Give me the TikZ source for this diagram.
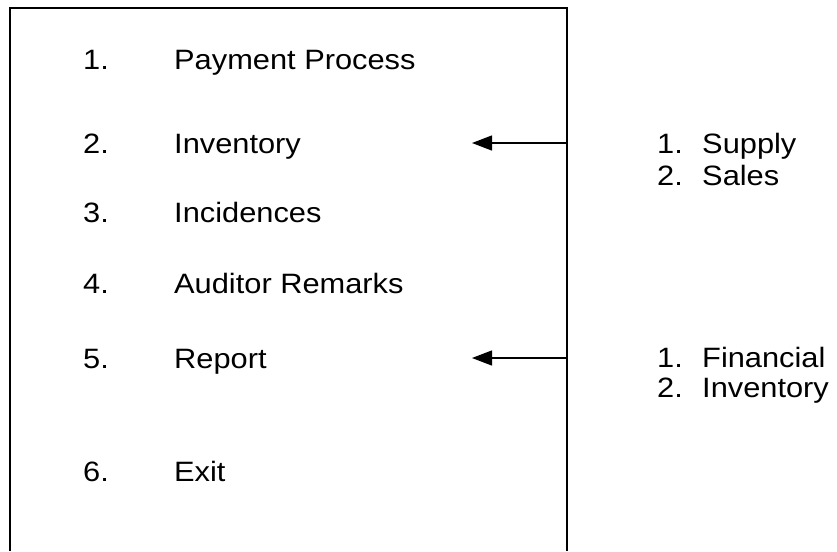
\documentclass[tikz,border=0pt]{standalone}
\usepackage{fontspec}
\usepackage{graphicx}
\setmainfont{Liberation Sans}
\usetikzlibrary{arrows.meta}
\newcommand{\wtxt}[1]{\scalebox{1.1}[1]{#1}}
\begin{document}
\begin{tikzpicture}[x=1pt,y=-1pt,
  txt/.style={anchor=base west,inner sep=0pt,font=\fontsize{28}{32}\selectfont},
  frame/.style={line width=1.3pt},
  conn/.style={line width=1.3pt,-{Triangle[length=20pt,width=15pt]}}]
\useasboundingbox (0,0) rectangle (837,551);
\draw[frame] (10,551) -- (10,8) -- (567,8) -- (567,551);
\node[txt] (n1) at (83,70) {\wtxt{1.}};
\node[txt] (t1) at (174,70) {\wtxt{Payment Process}};
\node[txt] (n2) at (83,153) {\wtxt{2.}};
\node[txt] (t2) at (174,153) {\wtxt{Inventory}};
\node[txt] (n3) at (83,222) {\wtxt{3.}};
\node[txt] (t3) at (174,222) {\wtxt{Incidences}};
\node[txt] (n4) at (83,293) {\wtxt{4.}};
\node[txt] (t4) at (174,293) {\wtxt{Auditor Remarks}};
\node[txt] (n5) at (83,368) {\wtxt{5.}};
\node[txt] (t5) at (174,368) {\wtxt{Report}};
\node[txt] (n6) at (83,481) {\wtxt{6.}};
\node[txt] (t6) at (174,481) {\wtxt{Exit}};
\node[txt] (s1n) at (657,153) {\wtxt{1.}};
\node[txt] (s1) at (702,153) {\wtxt{Supply}};
\node[txt] (s2n) at (657,185) {\wtxt{2.}};
\node[txt] (s2) at (702,185) {\wtxt{Sales}};
\node[txt] (r1n) at (657,367) {\wtxt{1.}};
\node[txt] (r1) at (702,367) {\wtxt{Financial}};
\node[txt] (r2n) at (657,397) {\wtxt{2.}};
\node[txt] (r2) at (702,397) {\wtxt{Inventory}};
\coordinate (a1s) at (567,143);
\coordinate (a1e) at (472,143);
\coordinate (a2s) at (567,358);
\coordinate (a2e) at (472,358);
\draw[conn] (a1s) -- (a1e);
\draw[conn] (a2s) -- (a2e);
\end{tikzpicture}
\end{document}
